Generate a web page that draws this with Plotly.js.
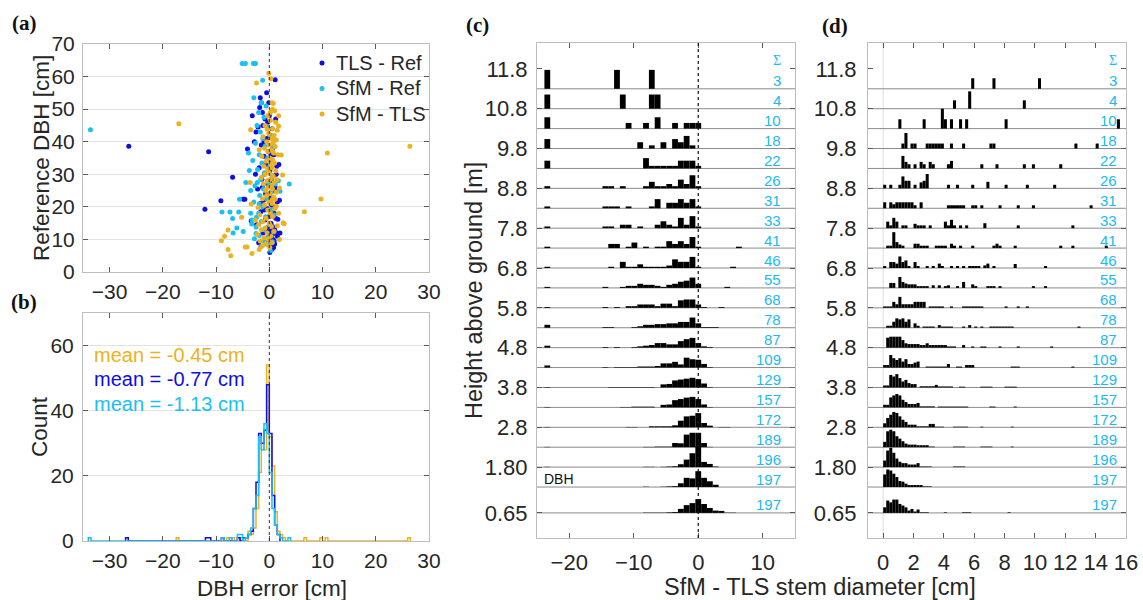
<!DOCTYPE html>
<html><head><meta charset="utf-8">
<script src="https://cdn.plot.ly/plotly-3.0.1.min.js"></script>
<style>html,body{margin:0;padding:0;background:#fff}#chart{width:1143px;height:600px}</style>
</head><body><div id="chart"></div>
<script>
// ---------------- DATA ----------------
// (a) error [cm] vs reference DBH [cm]
const tlsRef = [[-26.4,38.6],[-11.4,36.9],[-12.1,19.3],[-9.1,21.9],[-6.9,29.1],[-4.9,22.3],[-4.6,22.3],[1.1,59],[-1.7,53.5],[-1.5,52],[-3.2,48],[-1.3,49],[-2.8,40],[-4.1,37.8],[-2.5,43],[1.8,33],[1.2,24.7],[1.6,16.2],[-3.4,15.7],[0.1,6],
[-1.8,50.5],[-0.8,47],[-0.3,46],[0.5,44],[-1.2,45],[-2.1,44.5],[0.2,42],[-0.5,41],[1,40.5],[-1.5,39],[0.6,38],[-0.2,37],[0.9,36],[-1,35.5],[0.3,34.5],[-0.6,33],[1.4,32.5],[-1.9,32],[0.1,31],[-0.9,30],[0.7,29.5],[-1.4,28.5],[0.4,28],[-0.3,27],[1.1,26],[-2.2,25.5],[0.8,25],[-0.7,24],[0.2,23],[-1.1,22],[1.5,21.5],[0.5,20.5],[-0.4,19.5],[-1.6,18.5],[0.9,18],[-0.1,17],[1.2,16.5],[-0.8,16],[0.3,15],[-2.4,14.5],[0.6,14],[-0.5,13.5],[1.0,13],[0.2,12.5],[0.5,12],[0.8,11.8],[1.2,12.2],[0.0,11],[0.4,10.5],[0.7,10],[0.9,9.5],[0.3,9],[0.6,8.5],[0.2,8],[0.8,7.5],[-0.3,10],[-1.2,12],[1.5,11],[0.5,7],[1.0,8.6],[-0.9,19],[-1.3,26],[0.3,36],[-0.1,52],[-0.5,55],[1.2,47],[-2.6,30],[-1.7,21],[1.9,22],[1.3,30],[-0.6,13],[2.0,12],[-2.0,9],[-1,40],[0,48]];
const sfmRef = [[-33.6,43.7],[-5.1,64],[-4.5,64],[-3.0,64],[-2.6,64],[-1.25,58.9],[-2.9,53.5],[3.75,27],[2.0,24.8],[-8.9,18.4],[-7.4,18.4],[-5.75,18.4],[-6.9,16.4],[-6.1,13.5],[-4.9,12.4],[-6.8,12.0],[-5.6,22.3],[-3.9,36.5],[-3.1,34.2],[-3.75,31.2],[-2.25,27.5],[-3.5,18],[-2.5,11.8],[-3.25,16],[-1.9,20.9],[-4.4,27.5],
[-1.5,52],[-0.6,51],[-2,49],[-1,47.5],[-2.3,45],[-0.4,44.5],[-1.7,43],[0.2,42],[-1.2,41],[-2.6,39.5],[-0.8,38.5],[0.5,37.5],[-1.9,36],[-0.3,35],[-1.4,33.5],[0.1,32.5],[-2.2,31.5],[-0.9,30.5],[0.6,29.5],[-1.6,28.5],[-0.2,27.5],[1.1,27],[-2.7,26.5],[-1.1,25.5],[0.3,24.5],[-1.8,23.5],[-0.5,22.5],[-2.9,21.5],[-1.3,20],[0.4,19],[-2.0,18],[-0.7,17],[-1.5,15.5],[0.0,14.5],[-2.5,13.8],[-1.0,13],[0.8,12.3],[-1.9,11.2],[-0.4,10.5],[-2.8,10.2],[-1.2,9.5],[0.6,9.3],[-0.2,8.3],[-1.6,7.8],[0.9,17.5],[1.7,28],[0.4,39],[-3.5,25],[-2.4,16.8],[-3.3,14.7],[0.2,6.5]];
const sfmTls = [[-17,45.5],[26.4,38.6],[10.9,36.5],[9.7,22.4],[6.6,18.5],[2.6,15.1],[-0.1,61],[0.3,59.3],[-2.4,58],[0.75,51.7],[0.6,50],[-3.5,43.7],[2.5,29.8],[-3.6,27.5],[-5.2,16.8],[-7.75,12.9],[-8.4,11],[-9,9.6],[-7.75,6.9],[-7.25,5],[-4.5,7.7],[-4.2,7.7],[-3.25,5.7],[-1.9,6.9],[1.9,10],[1.75,18],[-3.4,20.9],[1.75,48],[1.75,44.8],[2.25,35.9],[2.8,14.8],[1.3,20.2],
[0.5,52],[1.0,49.5],[-0.3,48],[0.2,46.5],[1.2,46],[-0.8,45],[0.6,44],[1.5,43.5],[-0.1,42.5],[0.9,42],[-1.2,41.5],[0.3,41],[1.3,40.5],[-0.5,40],[0.7,39.5],[0.0,39],[1.1,38.5],[-0.9,38],[0.4,37.5],[-0.2,37],[0.8,36.5],[1.6,36],[-1.4,35.5],[0.1,35],[0.6,34.5],[-0.6,34],[1.0,33.5],[0.3,33],[-1.0,32.5],[0.5,32],[-0.3,31.5],[1.2,31],[0.0,30.5],[-0.8,30],[0.7,29.5],[-1.5,29],[0.2,28.5],[-0.4,28],[0.9,27.5],[-1.1,27],[0.4,26.5],[-0.2,26],[0.6,25.5],[-0.7,25],[1.3,24.5],[0.1,24],[-0.5,23.5],[0.8,23],[-1.3,22.5],[0.3,22],[-0.1,21.5],[0.5,21],[-0.9,20.5],[1.0,19.5],[-0.3,19],[0.2,18],[-1.8,17.5],[0.6,17],[-0.6,16.5],[-1.2,15.5],[0.0,15],[-2.0,14.5],[0.4,14],[-0.8,13.5],[-1.5,13],[0.9,12.5],[-0.4,12],[-2.3,11.5],[0.3,11],[-1.0,10.5],[-0.2,10],[-1.7,9.5],[0.5,9],[-0.6,8.5],[-1.3,8],[0.1,7.5],[-2.6,16],[-2.1,19.8],[1.9,25.8],[1.5,14.2],[-1.9,37.5],[1.4,28.3],[0.8,40.8],[-0.4,43.8],[0.2,49],[1.1,22.3]];
const seriesNames = ['TLS - Ref','SfM - Ref','SfM - TLS'];

// (b) histogram counts, 0.5 cm bins: [left edge, count]
const histSfmTls = [[-17.5,1],[-8,1],[-7,1],[-5.5,1],[-4,3],[-3.5,2],[-3,4],[-2.5,10],[-2,21],[-1.5,30],[-1,28],[-0.5,54],[0,32],[0.5,23],[1,9],[1.5,3],[2,2],[2.5,1],[6.5,1],[9.5,1],[10.5,1],[26,1]];
const histTlsRef = [[-27,1],[-12,1],[-11.5,1],[-9,1],[-6,1],[-5,1],[-4.5,1],[-4,2],[-3.5,3],[-3,10],[-2.5,18],[-2,33],[-1.5,30],[-1,34],[-0.5,48],[0,33],[0.5,14],[1,5],[1.5,2]];
const histSfmRef = [[-34,1],[-9,1],[-7.5,1],[-6,2],[-5.5,2],[-4.5,1],[-4,2],[-3.5,4],[-3,10],[-2.5,14],[-2,32],[-1.5,28],[-1,36],[-0.5,33],[0,21],[0.5,10],[1,5],[1.5,2],[2,1],[3.5,1]];
const meanLabels = ['mean = -0.45 cm','mean = -0.77 cm','mean = -1.13 cm'];

// (c),(d) stem-section rows
const rowHeights = [11.3,10.8,10.3,9.8,9.3,8.8,8.3,7.8,7.3,6.8,6.3,5.8,5.3,4.8,4.3,3.8,3.3,2.8,2.3,1.8,1.3,0.65];
const treeCounts = [3,4,10,18,22,26,31,33,41,46,55,68,78,87,109,129,157,172,189,196,197,197];
const heightTicks = [0.65,1.8,2.8,3.8,4.8,5.8,6.8,7.8,8.8,9.8,10.8,11.8];
const heightTickText = ['0.65','1.80','2.8','3.8','4.8','5.8','6.8','7.8','8.8','9.8','10.8','11.8'];

// (c) signed difference histogram: [bin index k (centre = 0.9*k cm), count]
const histC = [
 [[-26,1],[-14,1],[-8,1]],
 [[-26,1],[-13,1],[-8,1],[-7,1]],
 [[-26,2],[-12,1],[-9,1],[-7,2],[-4,1],[-2,1],[-1,1],[0,1]],
 [[-26,3],[-10,2],[-8,1],[-6,2],[-4,3],[-3,2],[-2,4],[-1,1]],
 [[-26,3],[-9,4],[-8,1],[-7,1],[-6,1],[-5,1],[-4,1],[-3,3],[-2,3],[-1,3],[0,1]],
 [[-26,1],[-16,1],[-15,1],[-13,1],[-9,1],[-8,3],[-7,1],[-6,1],[-5,2],[-4,1],[-3,4],[-2,2],[-1,6],[0,1]],
 [[-26,1],[-16,1],[-15,1],[-14,1],[-12,1],[-8,1],[-7,5],[-5,3],[-4,3],[-3,5],[-2,3],[-1,5],[0,1]],
 [[-26,1],[-16,1],[-15,1],[-13,2],[-12,2],[-10,1],[-7,2],[-6,4],[-5,2],[-4,1],[-3,6],[-2,2],[-1,7],[0,1]],
 [[-26,1],[-15,3],[-14,3],[-12,1],[-11,4],[-9,1],[-7,1],[-6,1],[-5,5],[-4,3],[-3,5],[-2,3],[-1,8],[0,1],[7,1]],
 [[-26,1],[-15,1],[-13,5],[-12,1],[-11,1],[-10,3],[-9,1],[-8,1],[-7,1],[-6,1],[-5,2],[-4,7],[-3,5],[-2,5],[-1,9],[0,1],[6,1]],
 [[-26,1],[-16,1],[-13,1],[-12,2],[-11,2],[-10,4],[-9,3],[-8,3],[-7,2],[-6,1],[-5,3],[-4,4],[-3,6],[-2,7],[-1,10],[0,4],[5,1]],
 [[-26,1],[-16,1],[-14,1],[-12,2],[-11,2],[-10,4],[-9,4],[-8,4],[-7,2],[-6,5],[-5,5],[-4,2],[-3,9],[-2,10],[-1,10],[0,4],[1,1],[4,1]],
 [[-26,4],[-16,1],[-15,1],[-11,1],[-10,2],[-9,4],[-8,4],[-7,5],[-6,5],[-5,6],[-4,6],[-3,8],[-2,8],[-1,14],[0,6],[1,1],[2,1],[3,1]],
 [[-26,3],[-16,1],[-14,1],[-11,1],[-10,2],[-9,3],[-8,4],[-7,7],[-6,7],[-5,5],[-4,5],[-3,10],[-2,13],[-1,15],[0,7],[1,2],[2,1]],
 [[-26,4],[-16,1],[-14,1],[-13,1],[-12,1],[-11,1],[-10,2],[-9,2],[-8,2],[-7,3],[-6,8],[-5,8],[-4,11],[-3,6],[-2,19],[-1,16],[0,15],[1,7],[2,1]],
 [[-26,1],[-15,1],[-14,1],[-13,1],[-12,1],[-11,1],[-10,1],[-9,1],[-8,1],[-6,7],[-5,8],[-4,16],[-3,18],[-2,20],[-1,22],[0,19],[1,9],[2,1]],
 [[-26,1],[-13,1],[-12,1],[-11,2],[-10,2],[-9,2],[-8,2],[-6,7],[-5,8],[-4,20],[-3,23],[-2,27],[-1,29],[0,23],[1,8],[2,1]],
 [[-26,1],[-12,1],[-11,1],[-8,3],[-7,3],[-6,3],[-5,3],[-4,6],[-3,20],[-2,33],[-1,35],[0,43],[1,13],[2,5],[4,1],[5,1]],
 [[-26,1],[-9,1],[-8,1],[-7,2],[-6,2],[-5,2],[-4,14],[-3,13],[-2,42],[-1,48],[0,48],[1,14],[2,1]],
 [[-26,1],[-9,1],[-8,1],[-6,1],[-5,2],[-4,3],[-3,10],[-2,26],[-1,48],[0,72],[1,18],[2,11],[3,2]],
 [[-9,1],[-6,1],[-5,2],[-4,3],[-3,13],[-2,32],[-1,30],[0,55],[1,32],[2,20],[3,8]],
 [[-9,1],[-8,1],[-7,1],[-6,1],[-5,2],[-4,3],[-3,14],[-2,27],[-1,34],[0,48],[1,31],[2,17],[3,8],[4,7],[5,1],[6,1]]
];

// (d) absolute difference, relative bar height [% of row gap]; segments [first bin j (0.2 cm bins), h, h, ...]
const histD = [
 [[29,53],[36,53],[51,53]],
 [[23,42],[28,87],[46,42]],
 [[5,47],[13,47],[19,100,47],[22,47],[25,47],[27,47],[40,47],[77,47]],
 [[6,25,78],[9,25,25],[14,25,25,25,25,25,25],[22,25],[26,25],[35,25,25],[63,25],[70,25]],
 [[6,63,33,21],[10,21],[12,33,21],[15,33,21],[21,21,38],[32,21],[37,21],[46,21],[49,21],[58,21]],
 [[0,18],[2,18],[5,18,60,38,38],[10,18],[12,30,38,72],[21,18],[24,18],[29,18],[34,33],[40,18],[47,18],[56,18]],
 [[0,30],[2,30,20,30,30,30,30,30,30,15],[12,30],[21,15,15,15,15,15,15],[29,15,15],[32,15],[38,15],[44,15],[49,15],[68,15]],
 [[1,33,14,52,33],[6,14,14],[10,22,14,14,14],[15,14],[20,33,14,42,14],[25,14],[27,14],[33,25],[44,14],[62,14]],
 [[1,12,12,80,30,18,12],[10,22,22,12,12,12],[17,12,12,12,12],[22,22,12],[25,12],[29,12],[36,12,22,12],[43,12],[58,12],[62,12],[73,12]],
 [[0,10],[2,30,30,22,58,30,38,10],[10,30,10],[14,10],[16,10],[18,22,10],[22,10],[24,10],[26,10],[28,10,10,10,10],[33,13,22],[36,10],[43,20],[53,10]],
 [[2,25,25],[5,55,30,22,18,18,18,9,9,9,9],[16,13],[18,13],[20,9,13],[24,9],[26,30],[29,18,9],[34,9,9,9],[38,9],[49,9],[53,9]],
 [[0,7,7,7,30,18,55,18,18,18,18,30,30,30,30],[15,7,7,7,7,7],[22,7],[26,7,7,7,7,7,7,7],[40,7],[44,7],[47,7]],
 [[1,10,10,30,47,42,47,30,42],[10,22,10],[13,6,6,6,6],[18,13,6,6,6,6],[26,6],[28,13],[30,6],[32,6],[35,6,6,6,6,6,6,6,6],[64,6]],
 [[1,50,55,55,55,55,38,22,18,18,18,18,13,13,22,13,13,13,13,13,13,6,6,6],[26,13],[29,6],[32,6,6],[38,6],[44,6],[55,6]],
 [[0,13,13,63,47,38,47,30,42,18,18,25,30],[14,5,5,5,5,5,5,5,18],[24,5,5],[27,13,13,13],[42,5,5,5],[62,5]],
 [[0,10,10,63,55,67,47,30,38,22,17,17],[12,6,6,6,6,6,13,5,5,5,5,5],[25,4,4],[32,4,4,4,4],[40,4,4,4,4]],
 [[0,13,13,50,60,67,60,38,27,17,17,17,22,5,5,5,5,5],[18,4,4,4,4,4,4,4,4,4,4],[35,4,4],[43,4]],
 [[0,20,47,63,77,72,55,38,27,13,13,13,5,5,5,5,17,17,3,3,3],[23,3,3,3,3,3],[32,3],[42,3]],
 [[0,27,80,88,80,55,43,30,18,13,13,13,10,10,10,10,3,3],[23,3,3,3,3],[32,3,3,3,3],[42,3]],
 [[0,33,83,97,72,43,27,20,20,13,13,13,20,3,3,3,3],[23,3,3,3,3]],
 [[0,63,88,83,67,50,30,27,17,10,10,10,10,10,3,3,3]],
 [[0,28,62,53,67,67,45,37,28,12,20,7,17,3,3,3],[20,3],[26,3,3,3],[41,3]]
];

// ---------------- STYLE ----------------
const FONT = '"Liberation Sans", Arial, sans-serif';
const SERIF = '"Liberation Serif", "Times New Roman", serif';
const TXT = '#262626';
const BLUE = '#0d0de6', CYAN = '#17c0f5', ORANGE = '#edb120', LBLUE = '#1cb9f2';
const W = 1143, H = 600;
const px = v => v / W, py = v => 1 - v / H;
const binC = 0.9, scaleC = 1.425, binD = 0.2, rowGap = 0.5;

const traces = [];
function sc(pts, color) {
  return {type:'scatter', mode:'markers', x:pts.map(p=>p[0]), y:pts.map(p=>p[1]),
    marker:{color:color, size:5}, xaxis:'x', yaxis:'y', showlegend:false, hoverinfo:'skip'};
}
traces.push(sc(tlsRef, BLUE));
traces.push(sc(sfmRef, CYAN));
traces.push(sc(sfmTls, ORANGE));

function stairs(pairs, color) {
  const w = 0.5;
  const idx = pairs.map(p => Math.round(p[0] / w));
  const lo = Math.min(...idx), hi = Math.max(...idx);
  const m = new Map(pairs.map(p => [Math.round(p[0] / w), p[1]]));
  const xs = [lo * w], ys = [0];
  for (let i = lo; i <= hi; i++) { xs.push(i * w); ys.push(m.get(i) || 0); }
  xs.push((hi + 1) * w); ys.push(ys[ys.length - 1]);
  xs.push((hi + 1) * w); ys.push(0);
  return {type:'scatter', mode:'lines', x:xs, y:ys, line:{shape:'hv', color:color, width:1.5},
    xaxis:'x2', yaxis:'y2', showlegend:false, hoverinfo:'skip'};
}
traces.push(stairs(histSfmTls, ORANGE));
traces.push(stairs(histTlsRef, BLUE));
traces.push(stairs(histSfmRef, CYAN));

// (c) bars
const cx = [], cy = [], cb = [];
histC.forEach((row, i) => row.forEach(([k, c]) => {
  cx.push(k * binC); cy.push(c / treeCounts[i] * scaleC); cb.push(rowHeights[i]);
}));
traces.push({type:'bar', x:cx, y:cy, base:cb, width:binC, marker:{color:'#000', line:{width:0}},
  xaxis:'x3', yaxis:'y3', showlegend:false, hoverinfo:'skip'});
// (d) bars
const dx = [], dy = [], db = [];
histD.forEach((row, i) => row.forEach(seg => {
  const j0 = seg[0];
  seg.slice(1).forEach((h, t) => { dx.push((j0 + t) * binD + binD / 2); dy.push(h / 100 * rowGap); db.push(rowHeights[i]); });
}));
traces.push({type:'bar', x:dx, y:dy, base:db, width:binD, marker:{color:'#000', line:{width:0}},
  xaxis:'x4', yaxis:'y4', showlegend:false, hoverinfo:'skip'});

function ax(extra, fs) {
  return Object.assign({showline:true, linecolor:'#bdbdbd', linewidth:1, mirror:'ticks', ticks:'inside',
    ticklen:5, tickcolor:'#5a5a5a', tickwidth:1, zeroline:false, showgrid:false, fixedrange:true,
    tickfont:{family:FONT, size:fs || 21, color:TXT}}, extra);
}
const yRangeC = [0.02, 12.45];
const layout = {
  width:W, height:H, margin:{l:0, r:0, t:0, b:0}, paper_bgcolor:'#fff', plot_bgcolor:'#fff',
  font:{family:FONT, color:TXT}, barmode:'overlay', hovermode:false, showlegend:false,
  xaxis: ax({domain:[px(83), px(429)], range:[-35,30], tickvals:[-30,-20,-10,0,10,20,30], anchor:'y', ticklabelstandoff:1}),
  yaxis: ax({domain:[py(272), py(44)], range:[0,70], tickvals:[0,10,20,30,40,50,60,70], anchor:'x',
    showgrid:true, gridcolor:'#e3e3e3', ticklabelstandoff:3}),
  xaxis2: ax({domain:[px(83), px(429)], range:[-35,30], tickvals:[-30,-20,-10,0,10,20,30], anchor:'y2', ticklabelstandoff:1}),
  yaxis2: ax({domain:[py(541), py(313)], range:[0,70], tickvals:[0,20,40,60], anchor:'x2',
    showgrid:true, gridcolor:'#e3e3e3', ticklabelstandoff:4}),
  xaxis3: ax({domain:[px(537), px(795)], range:[-25,15], tickvals:[-20,-10,0,10], anchor:'y3', ticklabelstandoff:5}, 22),
  yaxis3: ax({domain:[py(538), py(43)], range:yRangeC, tickvals:heightTicks, ticktext:heightTickText, anchor:'x3', ticklabelstandoff:4}, 22),
  xaxis4: ax({domain:[px(868), px(1126)], range:[-1,16], tickvals:[0,2,4,6,8,10,12,14,16], anchor:'y4', ticklabelstandoff:5}, 22),
  yaxis4: ax({domain:[py(538), py(43)], range:yRangeC, tickvals:heightTicks, ticktext:heightTickText, anchor:'x4', ticklabelstandoff:6}, 22),
  shapes:[], annotations:[]
};

// reference lines
layout.shapes.push({type:'line', xref:'x', yref:'y', x0:0, x1:0, y0:0, y1:70, line:{color:'#333', width:1, dash:'dot'}});
layout.shapes.push({type:'line', xref:'x2', yref:'y2', x0:0, x1:0, y0:0, y1:70, line:{color:'#333', width:1, dash:'dot'}});
layout.shapes.push({type:'line', xref:'x4', yref:'y4', x0:0, x1:0, y0:yRangeC[0], y1:yRangeC[1], line:{color:'#dcdcdc', width:1}, layer:'below'});
rowHeights.forEach(b => {
  layout.shapes.push({type:'line', xref:'x3', yref:'y3', x0:-25, x1:15, y0:b, y1:b, line:{color:'#8a8a8a', width:1}, layer:'below'});
  layout.shapes.push({type:'line', xref:'x4', yref:'y4', x0:-1, x1:16, y0:b, y1:b, line:{color:'#8a8a8a', width:1}, layer:'below'});
});
layout.shapes.push({type:'line', xref:'x3', yref:'y3', x0:0, x1:0, y0:yRangeC[0], y1:yRangeC[1], line:{color:'#111', width:1.2, dash:'dot'}});

// annotations
const A = layout.annotations;
function pa(x, y, text, opt) {
  A.push(Object.assign({xref:'paper', yref:'paper', x:px(x), y:py(y), text:text, showarrow:false,
    xanchor:'center', yanchor:'middle', font:{family:FONT, size:22, color:TXT}}, opt || {}));
}
pa(24, 23, '<b>(a)</b>', {font:{family:SERIF, size:21, color:'#111'}});
pa(24, 302, '<b>(b)</b>', {font:{family:SERIF, size:21, color:'#111'}});
pa(477, 25, '<b>(c)</b>', {font:{family:SERIF, size:21, color:'#111'}});
pa(835, 26, '<b>(d)</b>', {font:{family:SERIF, size:21, color:'#111'}});
pa(42, 158, 'Reference DBH [cm]', {textangle:-90, font:{family:FONT, size:22.5, color:TXT}});
pa(39, 427, 'Count', {textangle:-90, font:{family:FONT, size:22.5, color:TXT}});
pa(272, 588, 'DBH error [cm]', {font:{family:FONT, size:22.5, color:TXT}});
pa(474, 291, 'Height above ground [m]', {textangle:-90, font:{family:FONT, size:23.5, color:TXT}});
pa(820, 587, 'SfM - TLS stem diameter [cm]', {font:{family:FONT, size:23.5, color:TXT}});
[ORANGE, BLUE, CYAN].forEach((c, i) => pa(92, 355 + i * 24.5, meanLabels[i], {xanchor:'left', font:{family:FONT, size:20, color:c}}));

// legend of (a), drawn manually
[BLUE, CYAN, ORANGE].forEach((c, i) => {
  const yy = 63 + i * 25.5;
  layout.shapes.push({type:'circle', xref:'paper', yref:'paper', x0:px(319.5), x1:px(324.5), y0:py(yy + 2.5), y1:py(yy - 2.5),
    fillcolor:c, line:{width:0}});
  pa(334, yy, seriesNames[i], {xanchor:'left', font:{family:FONT, size:20, color:TXT}});
});

rowHeights.forEach((b, i) => {
  A.push({xref:'x3', yref:'y3', x:13.1, y:b + 0.2, text:String(treeCounts[i]), showarrow:false, xanchor:'right', yanchor:'middle', font:{family:FONT, size:15, color:LBLUE}});
  A.push({xref:'x4', yref:'y4', x:15.55, y:b + 0.2, text:String(treeCounts[i]), showarrow:false, xanchor:'right', yanchor:'middle', font:{family:FONT, size:15, color:LBLUE}});
});
A.push({xref:'x3', yref:'y3', x:13.1, y:12.0, text:'Σ', showarrow:false, xanchor:'right', yanchor:'middle', font:{family:SERIF, size:14, color:LBLUE}});
A.push({xref:'x4', yref:'y4', x:15.55, y:12.0, text:'Σ', showarrow:false, xanchor:'right', yanchor:'middle', font:{family:SERIF, size:14, color:LBLUE}});
A.push({xref:'x3', yref:'y3', x:-24.2, y:1.3 + 0.19, text:'DBH', showarrow:false, xanchor:'left', yanchor:'middle', font:{family:FONT, size:14, color:'#111'}});

Plotly.newPlot('chart', traces, layout, {staticPlot:true, displayModeBar:false});
</script></body></html>
